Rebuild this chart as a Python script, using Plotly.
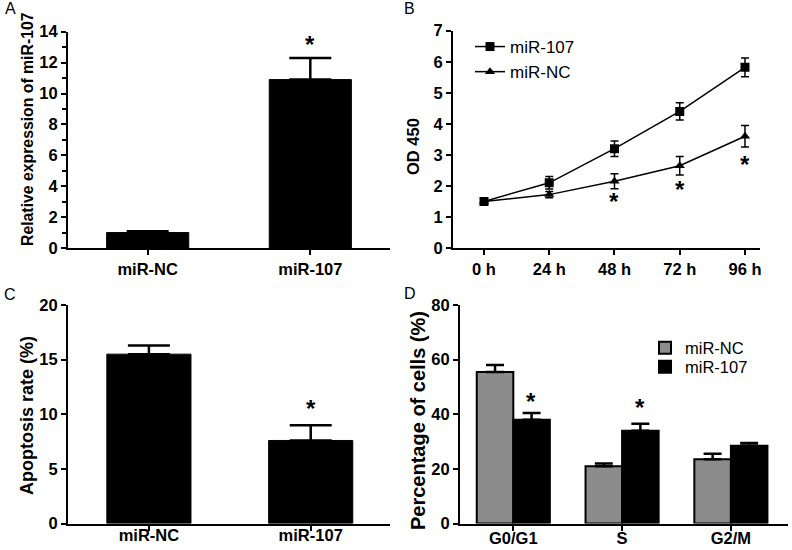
import plotly.graph_objects as go

# ---------------- data ----------------
# Panel A
a_groups = ["miR-NC", "miR-107"]
a_values = [1.0, 10.9]
a_err = [0.08, 1.4]
a_star_x = ["miR-107"]
a_star_y = [13.2]

# Panel B
b_times = ["0 h", "24 h", "48 h", "72 h", "96 h"]
b_mir107 = [1.5, 2.1, 3.2, 4.4, 5.82]
b_mir107_err = [0.05, 0.2, 0.25, 0.28, 0.3]
b_mirnc = [1.5, 1.72, 2.15, 2.65, 3.6]
b_mirnc_err = [0.05, 0.1, 0.24, 0.3, 0.35]
b_star_x = ["48 h", "72 h", "96 h"]
b_star_y = [1.49, 1.89, 2.70]

# Panel C
c_groups = ["miR-NC", "miR-107"]
c_values = [15.5, 7.6]
c_err = [0.8, 1.4]
c_star_x = ["miR-107"]
c_star_y = [10.57]

# Panel D
d_phases = ["G0/G1", "S", "G2/M"]
d_nc = [55.5, 21.0, 23.5]
d_nc_err = [2.5, 1.0, 2.0]
d_107 = [38.0, 34.0, 28.5]
d_107_err = [2.5, 2.5, 1.0]
d_star_x = ["G0/G1", "S"]
d_star_y = [44.6, 42.4]

# axis titles and panel letters
y_titles = ["Relative expression of miR-107", "OD 450", "Apoptosis rate (%)", "Percentage of cells (%)"]
panel_letters = ["A", "B", "C", "D"]

FONT = "Arial, Liberation Sans, Helvetica, sans-serif"

fig = go.Figure()

# ---- A ----
fig.add_trace(go.Bar(
    x=a_groups, y=a_values, width=0.505, marker=dict(color="black", line=dict(color="black", width=1)),
    error_y=dict(type="data", symmetric=False, array=a_err, arrayminus=[0] * len(a_err),
                 color="black", thickness=2.5, width=21),
    xaxis="x", yaxis="y", showlegend=False))

# ---- B ----
fig.add_trace(go.Scatter(
    x=b_times, y=b_mir107, mode="lines+markers", name="miR-107",
    line=dict(color="black", width=1.5), marker=dict(symbol="square", size=9, color="black"),
    error_y=dict(type="data", array=b_mir107_err, color="black", thickness=1.5, width=4),
    xaxis="x2", yaxis="y2", legend="legend"))
fig.add_trace(go.Scatter(
    x=b_times, y=b_mirnc, mode="lines+markers", name="miR-NC",
    line=dict(color="black", width=1.5), marker=dict(symbol="triangle-up", size=9, color="black"),
    error_y=dict(type="data", array=b_mirnc_err, color="black", thickness=1.5, width=4),
    xaxis="x2", yaxis="y2", legend="legend"))

# ---- C ----
fig.add_trace(go.Bar(
    x=c_groups, y=c_values, width=0.52, marker=dict(color="black", line=dict(color="black", width=1)),
    error_y=dict(type="data", symmetric=False, array=c_err, arrayminus=[0] * len(c_err),
                 color="black", thickness=2.5, width=21),
    xaxis="x3", yaxis="y3", showlegend=False))

# ---- D ----
fig.add_trace(go.Bar(
    x=d_phases, y=d_nc, name="miR-NC", offsetgroup="nc",
    marker=dict(color="#8c8c8c", line=dict(color="black", width=2)),
    error_y=dict(type="data", symmetric=False, array=d_nc_err, arrayminus=[0] * 3,
                 color="black", thickness=2.5, width=9),
    xaxis="x4", yaxis="y4", legend="legend2"))
fig.add_trace(go.Bar(
    x=d_phases, y=d_107, name="miR-107", offsetgroup="m107",
    marker=dict(color="black", line=dict(color="black", width=2)),
    error_y=dict(type="data", symmetric=False, array=d_107_err, arrayminus=[0] * 3,
                 color="black", thickness=2.5, width=9),
    xaxis="x4", yaxis="y4", legend="legend3"))

W, H = 792, 550
def px_x(a, b):
    return [a / W, b / W]
def px_y(top, bottom):
    return [1 - bottom / H, 1 - top / H]

tickfont = dict(family=FONT, size=16.5, color="black")

def xax(domain, anchor, rng, standoff=0):
    return dict(domain=domain, anchor=anchor, range=rng, showline=True, linecolor="black",
                linewidth=2, ticks="outside", ticklen=5, tickwidth=2, tickcolor="black",
                tickfont=tickfont, showgrid=False, zeroline=False, fixedrange=True,
                tickprefix="<b>", ticksuffix="</b>", automargin=False,
                ticklabelstandoff=standoff)

def yax(domain, anchor, rng, dtick):
    return dict(domain=domain, anchor=anchor, range=rng, dtick=dtick, showline=True,
                linecolor="black", linewidth=2, ticks="outside", ticklen=5, tickwidth=2,
                tickcolor="black", tickfont=tickfont, showgrid=False, zeroline=False,
                tickprefix="<b>", ticksuffix="</b>", automargin=False, fixedrange=True)

yA = yax(px_y(31.7, 248), "x", [0, 14], 2)
yA["minor"] = dict(dtick=1, ticks="outside", ticklen=4, tickwidth=2, tickcolor="black")

legfont = dict(family=FONT, size=16.5, color="black")
fig.update_layout(
    width=W, height=H, margin=dict(l=0, r=0, t=0, b=0, autoexpand=False),
    paper_bgcolor="white", plot_bgcolor="white",
    font=dict(family=FONT, color="black"),
    barmode="group", bargap=0.328, bargroupgap=0,
    xaxis=xax(px_x(68, 390), "y", [-0.49, 1.49]),
    yaxis=yA,
    xaxis2=xax(px_x(453, 760), "y2", [-0.475, 4.23]),
    yaxis2=yax(px_y(30.7, 248), "x2", [0, 7], 1),
    xaxis3=xax(px_x(68, 390), "y3", [-0.5, 1.49], -9),
    yaxis3=yax(px_y(305, 523.5), "x3", [0, 20], 5),
    xaxis4=xax(px_x(460, 788), "y4", [-0.49, 2.525], -6),
    yaxis4=yax(px_y(305, 523.5), "x4", [0, 80], 20),
    legend=dict(x=470 / W, y=1 - 29 / H, xanchor="left", yanchor="top",
                font=dict(family=FONT, size=17, color="black"), bgcolor="rgba(0,0,0,0)",
                itemwidth=30, tracegroupgap=0),
    legend2=dict(x=645 / W, y=1 - 348 / H, xanchor="left", yanchor="middle",
                 font=legfont, bgcolor="rgba(0,0,0,0)", itemwidth=30),
    legend3=dict(x=645 / W, y=1 - 367 / H, xanchor="left", yanchor="middle",
                 font=legfont, bgcolor="rgba(0,0,0,0)", itemwidth=30),
)

annotations = []
star_font = dict(family=FONT, size=24, color="black")
for xs, ys, xr, yr in [(a_star_x, a_star_y, "x", "y"), (b_star_x, b_star_y, "x2", "y2"),
                       (c_star_x, c_star_y, "x3", "y3")]:
    for xv, yv in zip(xs, ys):
        annotations.append(dict(x=xv, y=yv, xref=xr, yref=yr, text="<b>*</b>", showarrow=False,
                                font=star_font, yanchor="middle"))
for xv, yv in zip(d_star_x, d_star_y):
    annotations.append(dict(x=xv, y=yv, xref="x4", yref="y4", text="<b>*</b>", showarrow=False,
                            font=star_font, yanchor="middle", xshift=18))

# y-axis titles (rotated), centres in pixels, sizes per panel
title_pos = [(27, 129, 15.8), (413, 147, 16.5), (27, 416, 18), (418, 421, 20)]
for txt, (xp, yp, fs) in zip(y_titles, title_pos):
    annotations.append(dict(x=xp / W, y=1 - yp / H, xref="paper", yref="paper",
                            text="<b>" + txt + "</b>", textangle=-90, showarrow=False,
                            font=dict(family=FONT, size=fs, color="black"),
                            xanchor="center", yanchor="middle"))

panel_font = dict(family=FONT, size=16, color="black")
for lab, (xp, yp) in zip(panel_letters, [(3, 9), (402, 9), (2, 294), (402, 293)]):
    annotations.append(dict(x=xp / W, y=1 - yp / H, xref="paper", yref="paper", text=lab,
                            showarrow=False, font=panel_font, xanchor="left", yanchor="middle"))
fig.update_layout(annotations=annotations)

fig.write_html("out.html", config={"displayModeBar": False},
               post_script="document.body.style.margin='0';document.body.style.overflow='hidden';")
